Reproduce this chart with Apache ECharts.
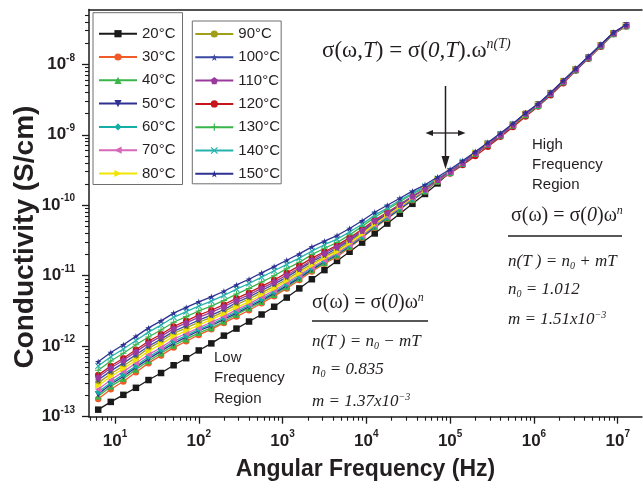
<!DOCTYPE html>
<html><head><meta charset="utf-8">
<script src="https://cdn.jsdelivr.net/npm/echarts@6/dist/echarts.min.js"></script>
<style>html,body{margin:0;padding:0;background:#fff}#c{width:643px;height:491px}</style>
</head><body><div id="c"></div>
<script>
// log10 of angular frequency (Hz)
const log10Omega = [0.80,0.95,1.10,1.25,1.40,1.55,1.70,1.85,2.00,2.15,2.30,2.45,2.60,2.75,2.90,3.05,3.20,3.35,3.50,3.65,3.80,3.95,4.10,4.25,4.40,4.55,4.70,4.85,5.00,5.15,5.30,5.45,5.60,5.75,5.90,6.05,6.20,6.35,6.50,6.65,6.80,6.95,7.10];
const temperatures = ['20°C','30°C','40°C','50°C','60°C','70°C','80°C','90°C','100°C','110°C','120°C','130°C','140°C','150°C'];
// log10 of conductivity (S/cm), one array per temperature
const logSigma20 = [-12.90,-12.79,-12.69,-12.59,-12.48,-12.38,-12.27,-12.17,-12.06,-11.96,-11.85,-11.75,-11.65,-11.55,-11.44,-11.31,-11.18,-11.05,-10.92,-10.79,-10.66,-10.53,-10.40,-10.26,-10.12,-9.98,-9.84,-9.69,-9.53,-9.40,-9.27,-9.13,-9.00,-8.86,-8.71,-8.57,-8.41,-8.24,-8.07,-7.90,-7.73,-7.56,-7.45];
const logSigma30 = [-12.75,-12.61,-12.50,-12.37,-12.24,-12.13,-12.02,-11.93,-11.84,-11.76,-11.67,-11.58,-11.49,-11.39,-11.29,-11.18,-11.06,-10.94,-10.83,-10.73,-10.60,-10.46,-10.32,-10.19,-10.06,-9.93,-9.80,-9.66,-9.54,-9.41,-9.27,-9.14,-9.01,-8.87,-8.72,-8.59,-8.42,-8.25,-8.08,-7.91,-7.74,-7.57,-7.46];
const logSigma40 = [-12.71,-12.57,-12.46,-12.33,-12.21,-12.10,-11.99,-11.90,-11.81,-11.74,-11.65,-11.55,-11.46,-11.37,-11.27,-11.16,-11.04,-10.92,-10.82,-10.71,-10.59,-10.45,-10.31,-10.18,-10.06,-9.92,-9.80,-9.66,-9.54,-9.41,-9.27,-9.14,-9.01,-8.87,-8.72,-8.59,-8.42,-8.25,-8.08,-7.91,-7.74,-7.57,-7.46];
const logSigma50 = [-12.68,-12.54,-12.43,-12.30,-12.18,-12.07,-11.96,-11.87,-11.78,-11.71,-11.62,-11.53,-11.44,-11.35,-11.25,-11.14,-11.03,-10.91,-10.80,-10.70,-10.58,-10.45,-10.30,-10.18,-10.05,-9.92,-9.79,-9.65,-9.53,-9.41,-9.27,-9.14,-9.01,-8.87,-8.71,-8.58,-8.42,-8.25,-8.08,-7.91,-7.73,-7.56,-7.45];
const logSigma60 = [-12.65,-12.52,-12.40,-12.28,-12.15,-12.05,-11.93,-11.85,-11.76,-11.69,-11.60,-11.51,-11.42,-11.33,-11.23,-11.12,-11.01,-10.89,-10.79,-10.69,-10.57,-10.44,-10.29,-10.17,-10.04,-9.91,-9.79,-9.65,-9.53,-9.40,-9.26,-9.13,-9.00,-8.86,-8.71,-8.58,-8.42,-8.25,-8.07,-7.90,-7.73,-7.56,-7.45];
const logSigma70 = [-12.61,-12.48,-12.36,-12.24,-12.12,-12.02,-11.90,-11.82,-11.74,-11.66,-11.58,-11.48,-11.40,-11.30,-11.21,-11.10,-10.99,-10.88,-10.78,-10.68,-10.56,-10.43,-10.28,-10.16,-10.03,-9.90,-9.79,-9.65,-9.53,-9.40,-9.26,-9.13,-9.00,-8.86,-8.70,-8.57,-8.41,-8.24,-8.07,-7.90,-7.73,-7.56,-7.45];
const logSigma80 = [-12.56,-12.43,-12.32,-12.20,-12.07,-11.97,-11.86,-11.78,-11.70,-11.62,-11.54,-11.45,-11.37,-11.27,-11.18,-11.07,-10.97,-10.85,-10.75,-10.66,-10.54,-10.41,-10.27,-10.14,-10.02,-9.89,-9.78,-9.64,-9.52,-9.40,-9.26,-9.13,-9.00,-8.86,-8.71,-8.57,-8.41,-8.24,-8.07,-7.90,-7.73,-7.56,-7.45];
const logSigma90 = [-12.52,-12.39,-12.28,-12.16,-12.03,-11.93,-11.82,-11.74,-11.66,-11.59,-11.51,-11.41,-11.33,-11.24,-11.15,-11.05,-10.94,-10.83,-10.73,-10.64,-10.52,-10.39,-10.25,-10.13,-10.01,-9.89,-9.77,-9.64,-9.52,-9.40,-9.26,-9.13,-9.00,-8.86,-8.70,-8.57,-8.41,-8.24,-8.07,-7.90,-7.73,-7.56,-7.45];
const logSigma100 = [-12.48,-12.35,-12.24,-12.12,-12.00,-11.90,-11.79,-11.71,-11.63,-11.56,-11.48,-11.38,-11.30,-11.21,-11.12,-11.02,-10.91,-10.80,-10.71,-10.61,-10.50,-10.37,-10.24,-10.12,-10.00,-9.88,-9.77,-9.64,-9.52,-9.40,-9.26,-9.13,-9.00,-8.85,-8.70,-8.57,-8.41,-8.24,-8.06,-7.89,-7.72,-7.55,-7.44];
const logSigma110 = [-12.44,-12.31,-12.20,-12.08,-11.96,-11.86,-11.75,-11.67,-11.59,-11.52,-11.44,-11.35,-11.27,-11.18,-11.09,-10.99,-10.89,-10.78,-10.68,-10.59,-10.48,-10.36,-10.22,-10.11,-9.99,-9.87,-9.77,-9.64,-9.52,-9.40,-9.26,-9.13,-9.00,-8.86,-8.70,-8.57,-8.41,-8.24,-8.07,-7.90,-7.73,-7.56,-7.45];
const logSigma120 = [-12.41,-12.28,-12.17,-12.05,-11.93,-11.83,-11.72,-11.64,-11.56,-11.49,-11.41,-11.32,-11.24,-11.15,-11.06,-10.96,-10.86,-10.75,-10.66,-10.57,-10.46,-10.34,-10.21,-10.10,-9.99,-9.88,-9.78,-9.66,-9.55,-9.43,-9.30,-9.17,-9.03,-8.89,-8.74,-8.60,-8.44,-8.27,-8.09,-7.92,-7.75,-7.57,-7.46];
const logSigma130 = [-12.34,-12.21,-12.10,-11.98,-11.87,-11.77,-11.66,-11.58,-11.50,-11.43,-11.35,-11.26,-11.18,-11.09,-11.00,-10.90,-10.81,-10.70,-10.61,-10.53,-10.42,-10.30,-10.17,-10.06,-9.95,-9.84,-9.75,-9.63,-9.52,-9.39,-9.26,-9.13,-9.00,-8.86,-8.70,-8.57,-8.41,-8.24,-8.07,-7.90,-7.73,-7.56,-7.45];
const logSigma140 = [-12.28,-12.15,-12.04,-11.92,-11.80,-11.70,-11.59,-11.51,-11.43,-11.36,-11.28,-11.19,-11.11,-11.02,-10.93,-10.84,-10.75,-10.65,-10.56,-10.48,-10.38,-10.27,-10.14,-10.04,-9.93,-9.83,-9.73,-9.62,-9.51,-9.38,-9.25,-9.12,-8.99,-8.85,-8.70,-8.57,-8.41,-8.24,-8.07,-7.90,-7.73,-7.56,-7.45];
const logSigma150 = [-12.22,-12.09,-11.98,-11.86,-11.74,-11.64,-11.53,-11.45,-11.37,-11.30,-11.22,-11.13,-11.05,-10.96,-10.87,-10.78,-10.69,-10.59,-10.51,-10.43,-10.33,-10.22,-10.10,-10.00,-9.90,-9.80,-9.71,-9.60,-9.49,-9.37,-9.24,-9.11,-8.98,-8.84,-8.69,-8.56,-8.40,-8.23,-8.06,-7.89,-7.72,-7.55,-7.44];
// tick labels: powers of ten
const xTickExponents = [1,2,3,4,5,6,7];
const yTickExponents = [-13,-12,-11,-10,-9,-8];

const seriesValues = [logSigma20,logSigma30,logSigma40,logSigma50,logSigma60,logSigma70,logSigma80,logSigma90,logSigma100,logSigma110,logSigma120,logSigma130,logSigma140,logSigma150];

const STAR = 'path://M50,0 L61,35 L98,35 L68,57 L79,91 L50,70 L21,91 L32,57 L2,35 L39,35 Z';
const PENT = 'path://M50,0 L100,38 L81,100 L19,100 L0,38 Z';
const PLUS = 'path://M42,0 H58 V42 H100 V58 H58 V100 H42 V58 H0 V42 H42 Z';
const CROSS = 'path://M12,0 L50,38 L88,0 L100,12 L62,50 L100,88 L88,100 L50,62 L12,100 L0,88 L38,50 L0,12 Z';
const styles = [
  {c:'#1a1a1a', s:'rect', r:0, z:6},
  {c:'#f15a29', s:'circle', r:0, z:7},
  {c:'#39b54a', s:'triangle', r:0, z:8},
  {c:'#2e3192', s:'triangle', r:180, z:8},
  {c:'#14aea6', s:'diamond', r:0, z:8},
  {c:'#d767b9', s:'triangle', r:90, z:8},
  {c:'#f2e500', s:'triangle', r:-90, z:8},
  {c:'#a19e1a', s:'circle', r:0, z:6},
  {c:'#3a47a3', s:STAR, r:0, z:8},
  {c:'#9b3a9e', s:PENT, r:0, z:8},
  {c:'#c4161c', s:'circle', r:0, z:7},
  {c:'#39b54a', s:PLUS, r:0, z:7},
  {c:'#26b2ad', s:CROSS, r:0, z:7},
  {c:'#2e3192', s:STAR, r:0, z:9}
];

const xMin = 0.69, xMax = 7.29, yMin = -13, yMax = -7.223;
const xMinor = [], yMinor = [];
for (let e = 0; e <= 7; e++) for (let m = 2; m <= 9; m++) { const v = e + Math.log10(m); if (v > xMin && v < xMax) xMinor.push(v); }
for (let e = -14; e <= -8; e++) for (let m = 2; m <= 9; m++) { const v = e + Math.log10(m); if (v > yMin && v < yMax) yMinor.push(v); }

const AX = '#1a1a1a', TX = '#231f20';
const labelRich = {
  b: {fontSize: 17, fontWeight: 'bold', fontFamily: 'Liberation Sans', color: TX},
  s: {fontSize: 10, fontWeight: 'bold', fontFamily: 'Liberation Sans', color: TX, padding: [0,0,13,0]}
};
const pow = v => '{b|10}{s|' + Math.round(v) + '}';

const chart = echarts.init(document.getElementById('c'), null, {renderer: 'canvas'});
const serif = 'Liberation Serif';

function formulaRich(size) {
  return {
    r: {fontFamily: serif, fontSize: size, fill: TX, color: TX},
    i: {fontFamily: serif, fontSize: size, fontStyle: 'italic', fill: TX, color: TX},
    sup: {fontFamily: serif, fontSize: Math.round(size*0.6), fontStyle: 'italic', fill: TX, color: TX, padding: [0,0,Math.round(size*0.55),0]},
    sub: {fontFamily: serif, fontSize: Math.round(size*0.6), fontStyle: 'italic', fill: TX, color: TX, padding: [Math.round(size*0.45),0,0,0]}
  };
}
function txt(x, y, text, rich, extra) {
  return Object.assign({type: 'text', x: x, y: y, silent: true, style: {text: text, rich: rich, align: 'left', verticalAlign: 'middle', fill: TX}}, extra || {});
}
const sansRich = {t: {fontFamily: 'Liberation Sans', fontSize: 15, fill: TX, color: TX}};

const option = {
  animation: false,
  backgroundColor: '#fff',
  textStyle: {fontFamily: 'Liberation Sans'},
  grid: {left: 89, top: 9.5, right: 1, bottom: 74.3, containLabel: false, outerBoundsMode: 'none'},
  legend: [
    {data: temperatures.slice(0,7), orient: 'vertical', left: 93, top: 12.7, itemWidth: 38, itemHeight: 9, itemGap: 5.3, itemTextGap: 4,
     padding: [12, 7, 2, 5], borderColor: '#6d6e71', borderWidth: 1, textStyle: {fontSize: 15, lineHeight: 18, color: TX, fontFamily: 'Liberation Sans'}, selectedMode: false},
    {data: temperatures.slice(7), orient: 'vertical', left: 192.3, top: 21, itemWidth: 38, itemHeight: 9, itemGap: 5.3, itemTextGap: 4,
     padding: [4, 1, 1, 2], borderColor: '#6d6e71', borderWidth: 1, textStyle: {fontSize: 15, lineHeight: 18, color: TX, fontFamily: 'Liberation Sans'}, selectedMode: false}
  ],
  xAxis: [
    {type: 'value', min: xMin, max: xMax, position: 'bottom',
     name: 'Angular Frequency (Hz)', nameLocation: 'middle', nameGap: 41,
     nameTextStyle: {fontSize: 23, fontWeight: 'bold', color: TX, fontFamily: 'Liberation Sans'},
     axisLine: {show: true, onZero: false, lineStyle: {color: AX, width: 1.5}},
     axisTick: {show: true, customValues: xTickExponents, length: 7, lineStyle: {color: AX, width: 1.3}},
     axisLabel: {customValues: xTickExponents, formatter: pow, rich: labelRich, margin: 13},
     splitLine: {show: false}},
    {type: 'value', min: xMin, max: xMax, position: 'bottom',
     axisLine: {show: false, onZero: false},
     axisTick: {show: true, customValues: xMinor, length: 4, lineStyle: {color: AX, width: 1.1}},
     axisLabel: {show: false}, splitLine: {show: false}},
    {type: 'value', min: xMin, max: xMax, position: 'top',
     axisLine: {show: true, onZero: false, lineStyle: {color: AX, width: 1.5}},
     axisTick: {show: false}, axisLabel: {show: false}, splitLine: {show: false}}
  ],
  yAxis: [
    {type: 'value', min: yMin, max: yMax, position: 'left',
     name: 'Conductivity (S/cm)', nameLocation: 'middle', nameGap: 50, nameMoveOverlap: false,
     nameTextStyle: {fontSize: 28, fontWeight: 'bold', color: TX, fontFamily: 'Liberation Sans', padding: [0, 48, 0, 0]},
     axisLine: {show: true, onZero: false, lineStyle: {color: AX, width: 1.5}},
     axisTick: {show: true, customValues: yTickExponents, length: 7, lineStyle: {color: AX, width: 1.3}},
     axisLabel: {customValues: yTickExponents, formatter: pow, rich: labelRich, margin: 14},
     splitLine: {show: false}},
    {type: 'value', min: yMin, max: yMax, position: 'left',
     axisLine: {show: false, onZero: false},
     axisTick: {show: true, customValues: yMinor, length: 4, lineStyle: {color: AX, width: 1.1}},
     axisLabel: {show: false}, splitLine: {show: false}}
  ],
  series: seriesValues.map((vals, i) => ({
    name: temperatures[i], type: 'line', xAxisIndex: 0, yAxisIndex: 0,
    data: log10Omega.map((x, k) => [x, vals[k]]),
    symbol: styles[i].s, symbolRotate: styles[i].r, symbolSize: 6.5, showSymbol: true,
    color: styles[i].c, lineStyle: {width: 1.3, color: styles[i].c},
    itemStyle: {color: styles[i].c}, z: styles[i].z, clip: false
  })),
  graphic: [
    txt(322, 51, '{r|σ(ω,}{i|T}{r|) = σ(}{i|0,T}{r|).ω}{sup|n(T)}', formulaRich(23)),
    {type: 'line', silent: true, shape: {x1: 445.5, y1: 86, x2: 445.5, y2: 160}, style: {stroke: TX, lineWidth: 1.5}},
    {type: 'polygon', silent: true, shape: {points: [[441.5,156],[449.5,156],[445.5,169]]}, style: {fill: TX}},
    {type: 'line', silent: true, shape: {x1: 430, y1: 133, x2: 461, y2: 133}, style: {stroke: TX, lineWidth: 1.3}},
    {type: 'polygon', silent: true, shape: {points: [[425.5,133],[433,130],[433,136]]}, style: {fill: TX}},
    {type: 'polygon', silent: true, shape: {points: [[465.5,133],[458,130],[458,136]]}, style: {fill: TX}},
    txt(532, 145, '{t|High}', sansRich),
    txt(532, 165, '{t|Frequency}', sansRich),
    txt(532, 185, '{t|Region}', sansRich),
    txt(511, 216, '{r|σ(ω) = σ(}{i|0}{r|)ω}{sup|n}', formulaRich(20)),
    {type: 'line', silent: true, shape: {x1: 508, y1: 236, x2: 622, y2: 236}, style: {stroke: TX, lineWidth: 1.5}},
    txt(508, 262, '{i|n(T ) = n}{sub|0}{i| + mT}', formulaRich(17)),
    txt(508, 290, '{i|n}{sub|0}{i| = 1.012}', formulaRich(17)),
    txt(508, 320, '{i|m = 1.51x10}{sup|−3}', formulaRich(17)),
    txt(214, 358, '{t|Low}', sansRich),
    txt(214, 378, '{t|Frequency}', sansRich),
    txt(214, 399, '{t|Region}', sansRich),
    txt(312, 303, '{r|σ(ω) = σ(}{i|0}{r|)ω}{sup|n}', formulaRich(20)),
    {type: 'line', silent: true, shape: {x1: 312, y1: 321, x2: 428, y2: 321}, style: {stroke: TX, lineWidth: 1.5}},
    txt(312, 342, '{i|n(T ) = n}{sub|0}{i| − mT}', formulaRich(17)),
    txt(312, 370, '{i|n}{sub|0}{i| = 0.835}', formulaRich(17)),
    txt(312, 402, '{i|m = 1.37x10}{sup|−3}', formulaRich(17))
  ]
};
chart.setOption(option);
</script></body></html>
